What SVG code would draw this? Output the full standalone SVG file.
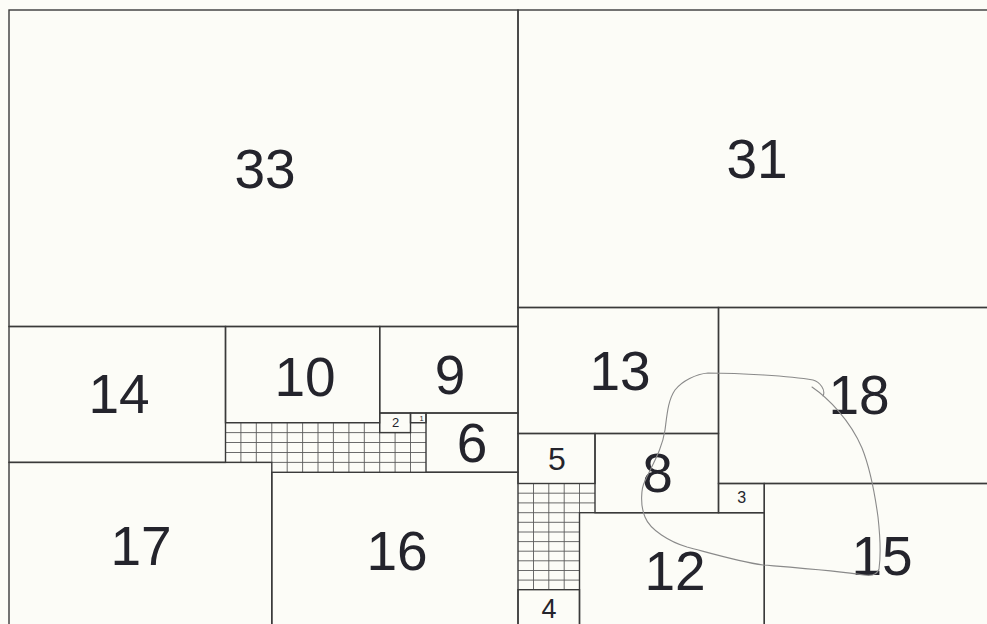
<svg xmlns="http://www.w3.org/2000/svg" width="987" height="624" viewBox="0 0 987 624">
<style>
.b{fill:none;stroke:#3a3a3a;stroke-width:1.4}
.g{fill:none;stroke:#5a5a5a;stroke-width:0.9}
.t{font-family:"Liberation Sans",Arial,sans-serif;fill:#24242c;text-anchor:middle}
.L{font-size:55px}
.loop{fill:none;stroke:#8a8a8a;stroke-width:1.1;stroke-linecap:round}
</style>
<rect x="0" y="0" width="987" height="624" fill="#fcfcf7"/>
<g id="grid-left">
<path class="g" d="M225.5 422.7H379.7M410.5 422.7H426M225.5 432.6H426M225.5 442.5H426M225.5 452.5H426M225.5 462.4H426
M240.9 422.7V462.4M256.3 422.7V462.4M271.8 422.7V462.4M287.2 422.7V472.3M302.6 422.7V472.3M318 422.7V472.3M333.4 422.7V472.3M348.9 422.7V472.3M364.3 422.7V472.3M379.7 422.7V472.3M395.1 432.6V472.3M410.5 422.7V472.3"/>
</g>
<g id="grid-right">
<path class="g" d="M518 493.2H595M518 502.9H595M518 512.7H579.5M518 522.3H579.5M518 532H579.5M518 541.6H579.5M518 551.2H579.5M518 560.8H579.5M518 570.5H579.5M518 580.1H579.5
M533.5 483.5V589.7M548.8 483.5V589.7M564.2 483.5V589.7M579.5 483.5V512.7"/>
</g>
<g id="n33"><rect class="b" x="9" y="10" width="509" height="316.5"/><text class="t L" x="265" y="188">33</text></g>
<g id="n31"><rect class="b" x="518" y="10" width="480" height="297.5"/><text class="t L" x="757" y="178">31</text></g>
<g id="n14"><rect class="b" x="9" y="326.5" width="216.5" height="135.9"/><text class="t L" x="119" y="413">14</text></g>
<g id="n10"><rect class="b" x="225.5" y="326.5" width="154.2" height="96.2"/><text class="t L" x="305" y="396">10</text></g>
<g id="n9"><rect class="b" x="379.7" y="326.5" width="138.3" height="86.5"/><text class="t L" x="450" y="394">9</text></g>
<g id="n2"><rect class="b" x="379.7" y="413" width="30.8" height="19.6"/><text class="t" x="395.5" y="426.7" font-size="13">2</text></g>
<g id="n1"><rect class="b" x="410.5" y="413" width="15.5" height="9.7"/><text class="t" x="421.5" y="420.7" font-size="7.5">1</text></g>
<g id="n6"><rect class="b" x="426" y="413" width="92" height="59.3"/><text class="t L" x="472" y="462">6</text></g>
<g id="n17"><rect class="b" x="9" y="462.4" width="262.8" height="170"/><text class="t L" x="141" y="565">17</text></g>
<g id="n16"><rect class="b" x="271.8" y="472.3" width="246.2" height="160"/><text class="t L" x="397" y="570">16</text></g>
<g id="n13"><rect class="b" x="518" y="307.5" width="200.5" height="126"/><text class="t L" x="620" y="390">13</text></g>
<g id="n18"><rect class="b" x="718.5" y="307.5" width="280" height="176"/><text class="t L" x="859" y="414">18</text></g>
<g id="n5"><rect class="b" x="518" y="433.5" width="77" height="50"/><text class="t" x="557" y="470" font-size="32">5</text></g>
<g id="n8"><rect class="b" x="595" y="433.5" width="123.5" height="79.2"/><text class="t L" x="657.5" y="492">8</text></g>
<g id="n3"><rect class="b" x="718.5" y="483.5" width="45.8" height="29.2"/><text class="t" x="741.7" y="503.3" font-size="16">3</text></g>
<g id="n15"><rect class="b" x="764.3" y="483.5" width="240" height="150"/><text class="t L" x="882" y="575">15</text></g>
<g id="n12"><rect class="b" x="579.5" y="512.7" width="184.8" height="120"/><text class="t L" x="675" y="590">12</text></g>
<g id="n4"><rect class="b" x="518" y="589.7" width="61.5" height="50"/><text class="t" x="549" y="617.5" font-size="27">4</text></g>
<g id="connectors">
<path class="loop" d="M812 387 C828 398 850 420 862 448 C870 468 875 495 878 517 C880 535 881 555 879 569 C877 575 870 576 864 575 C840 571 800 568 763 565 C740 562 710 553 687 547 C670 542 650 530 645 517 C640 505 641 488 645 481 C652 465 662 450 665 430 C667 415 668 400 675 390 C682 381 696 374 708 373 C740 373 790 376 813 380 C820 382 826 390 823 396"/>
</g>
</svg>
